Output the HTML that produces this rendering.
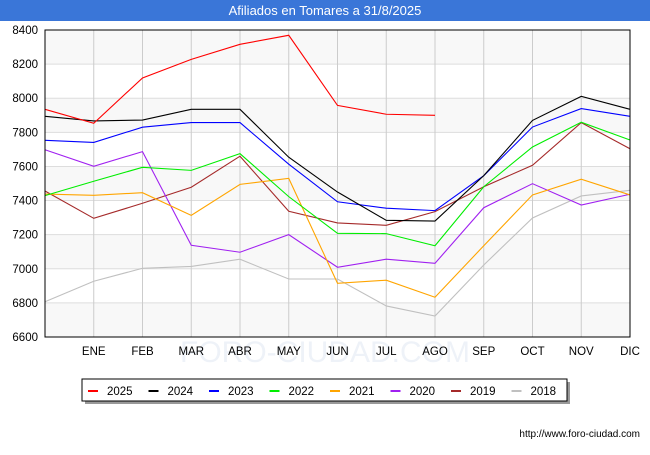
<!DOCTYPE html>
<html><head><meta charset="utf-8"><style>
body{margin:0;background:#fff;font-family:"Liberation Sans",sans-serif}
svg text{font-family:"Liberation Sans",sans-serif}
</style></head><body>
<svg id="c" width="650" height="450" xmlns="http://www.w3.org/2000/svg">
<rect x="0" y="0" width="650" height="21" fill="#3a76d8"/>
<text x="325" y="15" text-anchor="middle" fill="#fff" font-size="13">Afiliados en Tomares a 31/8/2025</text>
<g id="grid"></g><g id="series"></g><g id="axes"></g>
<rect x="85" y="382" width="485" height="22" fill="#999"/>
<rect x="82" y="379" width="485" height="22" fill="#fff" stroke="#000" stroke-width="1"/>
<g id="legend"></g>
<text x="640" y="437" text-anchor="end" font-size="10" fill="#000">http://www.foro-ciudad.com</text>
</svg>
<script>
const months=["","ENE","FEB","MAR","ABR","MAY","JUN","JUL","AGO","SEP","OCT","NOV","DIC"];
const yTicks=[6600,6800,7000,7200,7400,7600,7800,8000,8200,8400];
const years=["2025","2024","2023","2022","2021","2020","2019","2018"];
const colors=["#ff0000","#000000","#0000ff","#00ee00","#ffa500","#a020f0","#a52a2a","#c0c0c0"];
const s2025=[7935,7853,8119,8228,8316,8369,7958,7906,7900];
const s2024=[7894,7867,7872,7935,7935,7654,7450,7284,7280,7546,7870,8011,7935];
const s2023=[7753,7741,7830,7857,7857,7613,7393,7355,7341,7546,7831,7939,7894];
const s2022=[7429,7513,7595,7577,7675,7423,7208,7206,7135,7481,7714,7859,7755];
const s2021=[7438,7431,7446,7313,7495,7530,6915,6933,6833,7135,7433,7525,7433];
const s2020=[7698,7601,7687,7138,7097,7200,7009,7056,7032,7358,7499,7374,7437];
const s2019=[7456,7296,7384,7478,7660,7337,7269,7255,7335,7481,7607,7857,7704];
const s2018=[6807,6927,7003,7014,7056,6940,6940,6782,6723,7022,7298,7427,7460];
const series=[s2025,s2024,s2023,s2022,s2021,s2020,s2019,s2018];
const L=45,R=630,T=30,B=337,ymin=6600,ymax=8400;
const xs=i=>L+i*(R-L)/12;
const ys=v=>B-(v-ymin)*(B-T)/(ymax-ymin);
const NS="http://www.w3.org/2000/svg";
function mk(t,a,p){const e=document.createElementNS(NS,t);for(const k in a)e.setAttribute(k,a[k]);p.appendChild(e);return e;}
const g=document.getElementById('grid'),ax=document.getElementById('axes'),sg=document.getElementById('series'),lg=document.getElementById('legend');
for(let i=0;i<yTicks.length-1;i++){if(i%2==0){const r=mk('rect',{x:L,y:ys(yTicks[i+1]),width:R-L,height:ys(yTicks[i])-ys(yTicks[i+1]),fill:'#f8f8f8'},g);

}}
yTicks.forEach(v=>{const l=mk('line',{x1:L,x2:R,y1:ys(v),y2:ys(v),stroke:'#ddd'},g);


const t=mk('text',{x:L-7,y:ys(v)+4,'text-anchor':'end','font-size':'11.5',fill:'#000'},ax);t.textContent=v;

});
months.forEach((m,i)=>{if(i>0){const l=mk('line',{x1:xs(i),x2:xs(i),y1:T,y2:B,stroke:'#ccc'},g);

}
const t=mk('text',{x:xs(i),y:355,'text-anchor':'middle','font-size':'11.5',fill:'#000'},ax);t.textContent=m;

});
const wm=mk('text',{x:325,y:362,'text-anchor':'middle','font-size':'30',fill:'#eef2f8'},g);wm.textContent="FORO-CIUDAD.COM";


const fr=mk('rect',{x:L,y:T,width:R-L,height:B-T,fill:'none',stroke:'#000','stroke-width':1},ax);


for(let k=series.length-1;k>=0;k--){const d=series[k].map((v,i)=>xs(i)+','+ys(v)).join(' ');
const p=mk('polyline',{points:d,fill:'none',stroke:colors[k],'stroke-width':1.1},sg);

}
years.forEach((y,k)=>{const x0=88+k*60.5;
const l=mk('line',{x1:x0,x2:x0+10,y1:391,y2:391,stroke:colors[k],'stroke-width':2},lg);


const t=mk('text',{x:x0+19,y:395,'font-size':'11.5',fill:'#000'},lg);t.textContent=y;

});
</script>
</body></html>
